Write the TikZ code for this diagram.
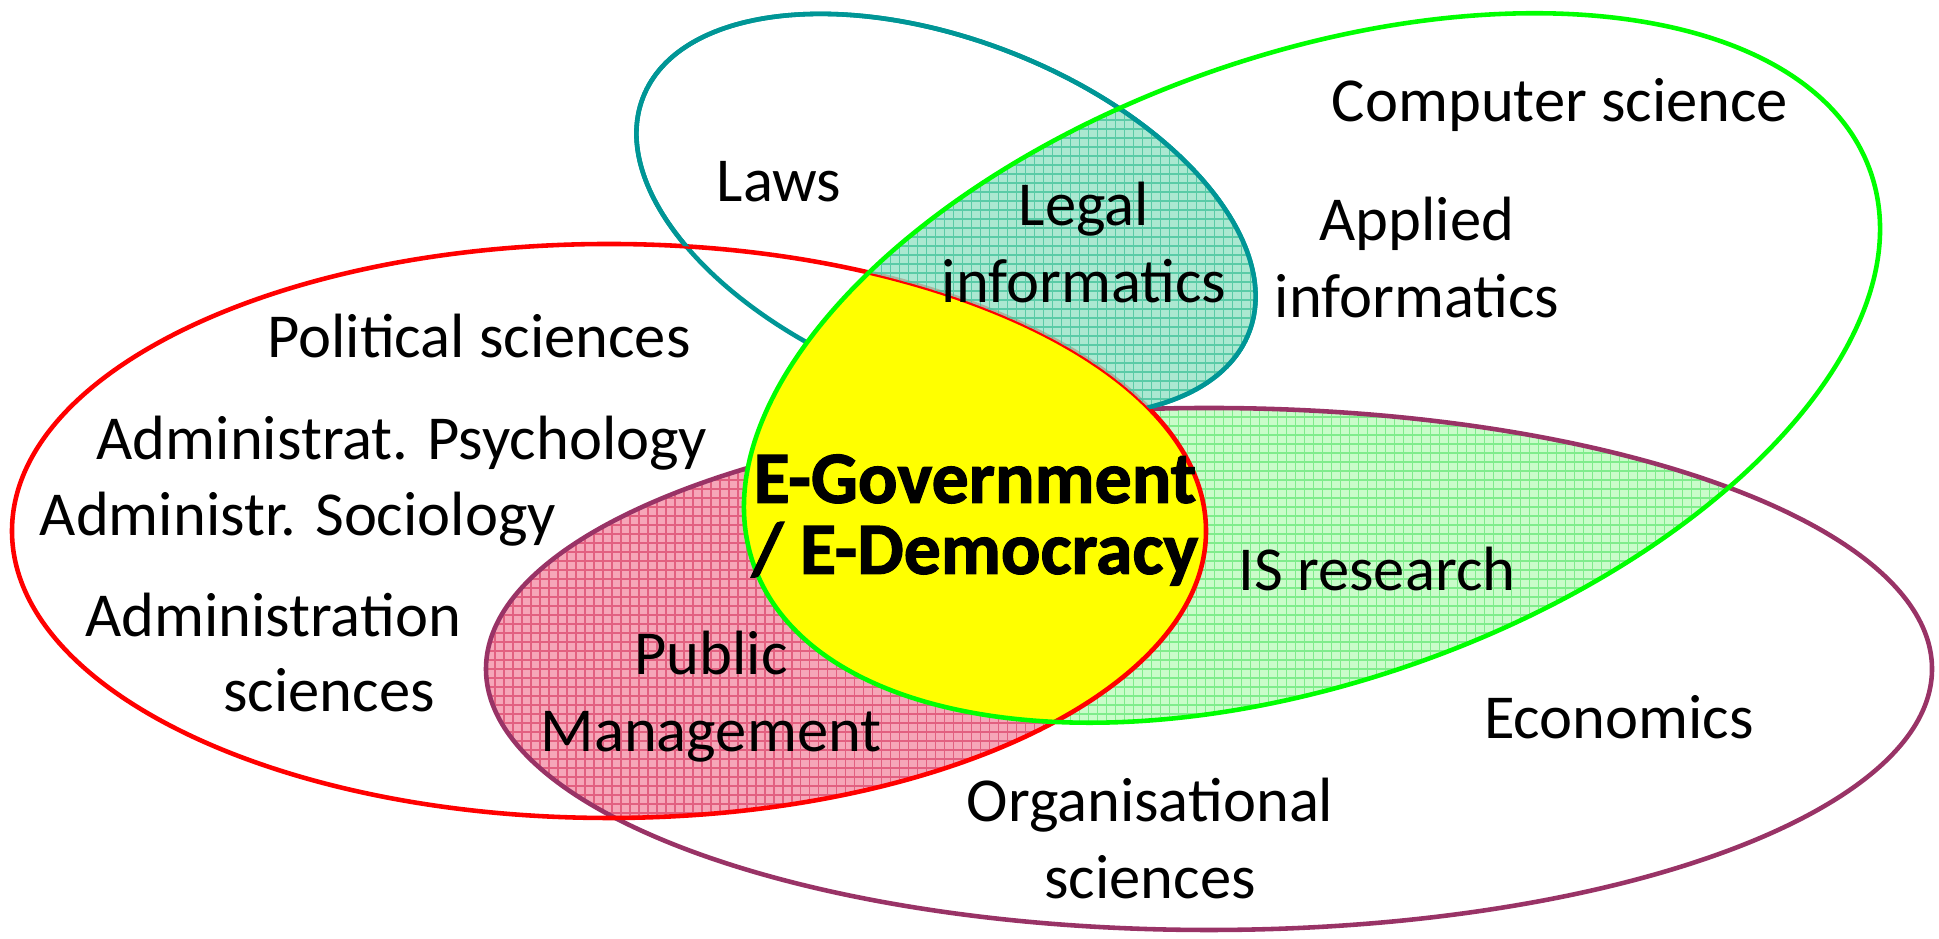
\documentclass[tikz,border=0pt]{standalone}
\usepackage{fontspec}
\setmainfont{Carlito}
\newfontfamily\coreface[FakeBold=1.6]{Carlito}
\usetikzlibrary{positioning}

\definecolor{polred}{RGB}{255,0,0}
\definecolor{orgplum}{RGB}{153,51,102}
\definecolor{lawteal}{RGB}{0,150,150}
\definecolor{csgreen}{RGB}{0,255,0}
\definecolor{pmpink}{RGB}{246,166,184}
\definecolor{pmgrid}{RGB}{226,96,128}
\definecolor{limint}{RGB}{150,226,198}
\definecolor{ligrid}{RGB}{70,196,156}
\definecolor{islight}{RGB}{202,252,202}
\definecolor{isgrid}{RGB}{128,236,140}
\definecolor{egyellow}{RGB}{255,255,0}

\begin{document}
\begin{tikzpicture}
        \tikzstyle{every node}=[font=\fontsize{17.8}{21.9}\selectfont, align=center, text=black]
        \tikzstyle{ring}=[line width=1.3pt]
        \tikzstyle{hatch}=[line width=0.3pt, step=0.09]
        \tikzstyle{core}=[font=\fontsize{21}{20.2}\selectfont\coreface\bfseries]
        \def\ellpol{(6.09,4.08) ellipse [x radius=5.97cm, y radius=2.87cm]}
        \def\ellorg{(12.09,2.70) ellipse [x radius=7.23cm, y radius=2.61cm]}
        \def\elllaw{(9.46,7.24) ellipse [x radius=3.25cm, y radius=1.75cm, rotate=-21.2]}
        \def\ellcs{(13.12,5.71) ellipse [x radius=5.92cm, y radius=3.13cm, rotate=19.4]}
        % whole sheet; together with an ellipse it clips to the outside
        \def\sheet{(0,0) rectangle (19.39,9.39)}
        \useasboundingbox (0,0) rectangle (19.39,9.39);

        % overlaps with the organisational ring
        \begin{scope}
          \clip \ellpol;
          \clip \ellorg;
          \fill[pmpink] \sheet;
          \draw[hatch, pmgrid] (0,0) grid (19.39,9.39);
        \end{scope}
        \begin{scope}
          \clip \ellcs;
          \clip \ellorg;
          \fill[islight] \sheet;
          \draw[hatch, isgrid] (0,0) grid (19.39,9.39);
        \end{scope}
        \draw[ring, lawteal] \elllaw;
        \draw[ring, orgplum] \ellorg;

        % e-government core
        \begin{scope}
          \clip \ellpol;
          \fill[egyellow] \ellcs;
        \end{scope}
        \draw[ring, polred] \ellpol;

        % legal informatics
        \begin{scope}[opacity=0.8]
          \clip \ellcs;
          \clip \elllaw;
          \clip \sheet \ellpol;
          \fill[limint] \sheet;
          \draw[hatch, ligrid] (0,0) grid (19.39,9.39);
        \end{scope}
        \begin{scope}
          \clip \sheet \ellpol;
          \draw[ring, lawteal] \elllaw;
        \end{scope}
        \draw[ring, csgreen] \ellcs;

        % labels
        \node (laws)    at (7.79,7.57)  {Laws};
        \node (legal)   at (10.84,6.96) {Legal\\informatics};
        \node (cs)      at (15.60,8.34) {Computer science};
        \node (applied) at (14.17,6.81) {Applied\\informatics};
        \node (pol)     at (4.79,6.03)  {Political sciences};
        \node (psy)     at (4.02,4.96)  {Administrat. Psychology};
        \node (soc)     at (2.98,4.20)  {Administr. Sociology};
        \node (adm)     at (2.73,3.24)  {Administration};
        \node (admsci)  at (3.29,2.49)  {sciences};
        \node (pm)      at (7.11,2.42)  {Public\\Management};
        \node[core] (egov) at (9.75,4.19) {E-Government\\/ E-Democracy};
        \node (is)      at (13.77,3.70) {IS research};
        \node (eco)     at (16.19,2.22) {Economics};
        \node (org)     at (11.50,1.00) {Organisational\\sciences};
\end{tikzpicture}
\end{document}
